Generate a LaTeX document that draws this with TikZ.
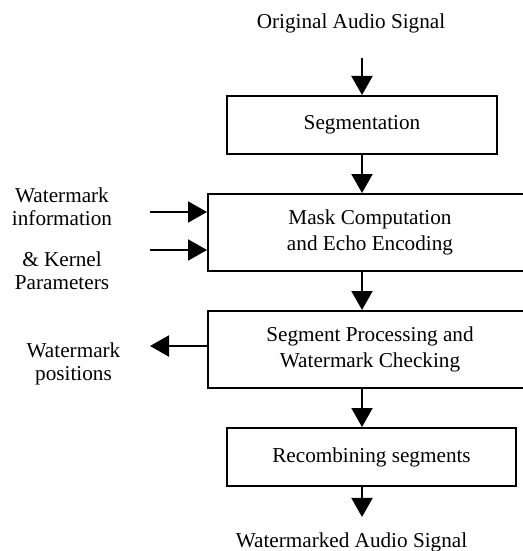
\documentclass[tikz,border=0pt]{standalone}
\usepackage{fontspec}
\setmainfont{Liberation Serif}
\usetikzlibrary{arrows.meta,positioning}

\begin{document}
\begin{tikzpicture}[
    x=0.5pt, y=-0.5pt,
    box/.style={draw, line width=1pt, align=center, inner sep=0pt, font={\fontsize{10.6}{13.3}\selectfont}},
    lbl/.style={align=center, inner sep=0pt, font={\fontsize{10.6}{11.6}\selectfont}},
    link/.style={-{Triangle[length=9.5pt, width=10.5pt]}, line width=1pt}
]
\useasboundingbox (0,0) rectangle (523,551);
\node[box, minimum width=135pt, minimum height=29pt] (seg) at (362,125) {Segmentation};
\node[box, below=19pt of seg, xshift=4pt, minimum width=162pt, minimum height=38.5pt] (mask) {Mask Computation\\and Echo Encoding};
\node[box, below=19pt of mask, minimum width=162pt, minimum height=38.5pt] (proc) {Segment Processing and\\Watermark Checking};
\node[box, below=19pt of proc, xshift=0.75pt, minimum width=144.5pt, minimum height=29pt] (rec) {Recombining segments};
\node[lbl] (src) at (351,23) {Original Audio Signal};
\node[lbl] (dst) at (351.5,542) {Watermarked Audio Signal};
\node[lbl] (wminfo) at (62,207) {Watermark\\information};
\node[lbl] (kernel) at (62,270.5) {\& Kernel\\Parameters};
\node[lbl] (wmpos) at (73.5,364) {Watermark\\positions};
\coordinate (in1) at (150,212);
\coordinate (in2) at (150,250);
\coordinate (out) at (150,346);
\draw[link, shorten <=12.5pt] (seg |- src.south) -- (seg);
\draw[link] (seg) -- (seg |- mask.north);
\draw[link] (seg |- mask.south) -- (seg |- proc.north);
\draw[link] (seg |- proc.south) -- (seg |- rec.north);
\draw[link, shorten >=7.5pt] (seg |- rec.south) -- (seg |- dst.north);
\draw[link] (in1) -- (in1 -| mask.west);
\draw[link] (in2) -- (in2 -| mask.west);
\draw[link] (out -| proc.west) -- (out);
\end{tikzpicture}
\end{document}
